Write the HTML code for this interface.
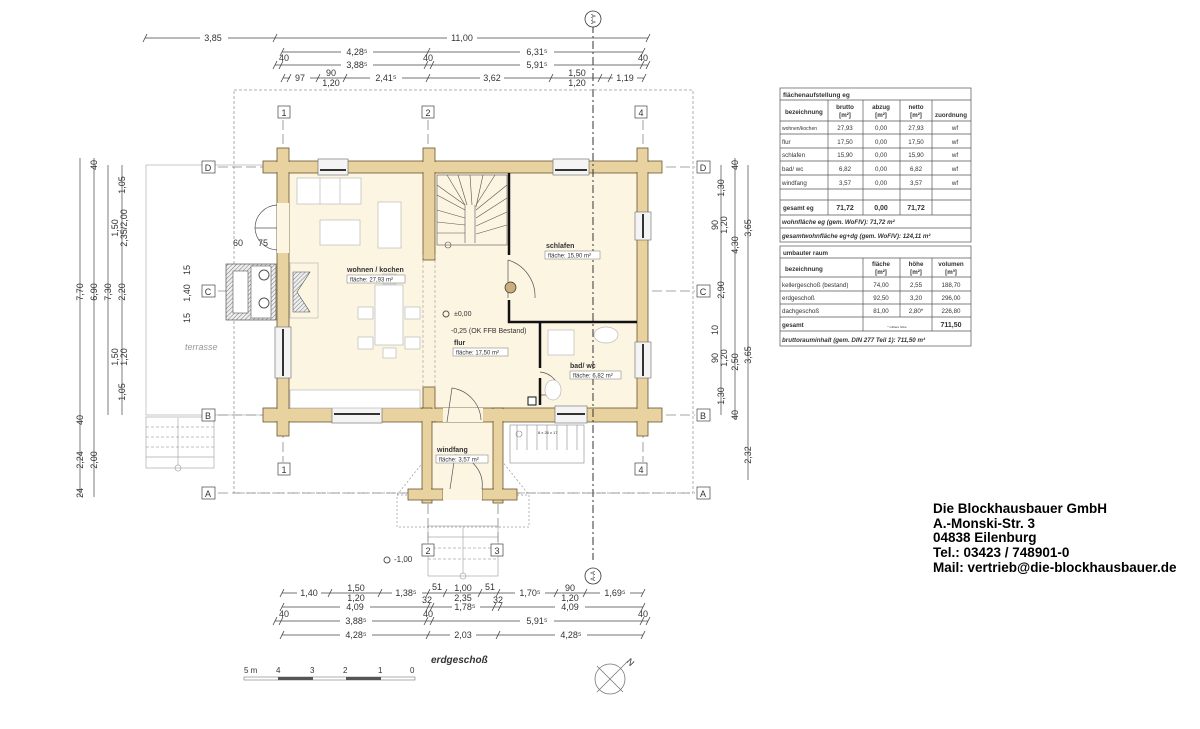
<!DOCTYPE html>
<html><head><meta charset="utf-8"><style>
html,body{margin:0;padding:0;background:#fff}
svg{display:block}
text{font-family:"Liberation Sans",sans-serif;fill:#333}
.d{font-size:9px}
.s{font-size:6px}
.t{font-size:6.2px}
</style></head><body>
<svg width="1200" height="729" viewBox="0 0 1200 729" xmlns="http://www.w3.org/2000/svg">
<defs>
<pattern id="h" width="3" height="3" patternUnits="userSpaceOnUse" patternTransform="rotate(45)"><rect width="3" height="3" fill="#eee"/><line x1="0" y1="0" x2="0" y2="3" stroke="#777" stroke-width="1"/></pattern>
</defs>

<rect x="234" y="90" width="459" height="403" fill="none" stroke="#999" stroke-width="0.8" stroke-dasharray="3,2"/>
<rect x="146" y="165" width="131" height="250" fill="none" stroke="#bbb" stroke-width="0.8"/>
<text x="185" y="350" font-size="9" font-style="italic" style="fill:#999">terrasse</text>
<g stroke="#aaa" stroke-width="0.7" fill="none">
<rect x="146" y="417" width="68" height="51"/>
<line x1="146" y1="427" x2="214" y2="427" stroke-dasharray="3,2"/>
<line x1="146" y1="437" x2="214" y2="437" stroke-dasharray="3,2"/>
<line x1="146" y1="447" x2="214" y2="447" stroke-dasharray="3,2"/>
<line x1="146" y1="457" x2="214" y2="457"/>
<line x1="178" y1="418" x2="178" y2="465"/><circle cx="178" cy="468" r="3"/>
</g>
<g stroke="#999" stroke-width="0.7" fill="none" stroke-dasharray="2,2">
<polyline points="397,495 463,412 529,495"/>
<rect x="397" y="495" width="132" height="32"/>
</g>
<g stroke="#aaa" stroke-width="0.7" fill="none">
<rect x="428" y="526" width="70" height="50"/>
<line x1="428" y1="537" x2="498" y2="537"/><line x1="428" y1="548" x2="498" y2="548" stroke-dasharray="3,2"/><line x1="428" y1="559" x2="498" y2="559" stroke-dasharray="3,2"/>
<line x1="463" y1="527" x2="463" y2="573"/><circle cx="463" cy="576" r="3"/>
</g>

<g stroke="#888" stroke-width="0.8" stroke-dasharray="10,4" fill="none">
<line x1="218" y1="167" x2="695" y2="167"/>
<line x1="218" y1="291" x2="695" y2="291"/>
<line x1="218" y1="415" x2="695" y2="415"/>
<line x1="218" y1="493" x2="695" y2="493"/>
<line x1="283" y1="120" x2="283" y2="462"/>
<line x1="428" y1="120" x2="428" y2="462"/>
<line x1="643" y1="120" x2="643" y2="462"/>
<line x1="428" y1="490" x2="428" y2="545"/>
<line x1="498" y1="490" x2="498" y2="545"/>
</g>

<rect x="289" y="173" width="348" height="235" fill="#fcf5e2"/>
<rect x="432" y="422" width="61" height="68" fill="#fcf5e2"/>
<g fill="#e8d3a0" stroke="#6a5530" stroke-width="0.8">
<rect x="263" y="161" width="399" height="12"/>
<rect x="263" y="408" width="399" height="14"/>
<rect x="277" y="148" width="12" height="288"/>
<rect x="637" y="148" width="11" height="288"/>
<rect x="423" y="148" width="12" height="112"/>
<rect x="423" y="387" width="12" height="35"/>
<rect x="422" y="408" width="10" height="95"/>
<rect x="493" y="408" width="10" height="95"/>
<rect x="408" y="489" width="35" height="11"/>
<rect x="482" y="489" width="35" height="11"/>
</g>
<g fill="#e8d3a0">
<rect x="278" y="162" width="10" height="273"/><rect x="638" y="162" width="9" height="273"/>
<rect x="424" y="162" width="10" height="97"/><rect x="423" y="409" width="8" height="90"/><rect x="494" y="409" width="8" height="90"/>
<rect x="264" y="162" width="397" height="10"/><rect x="264" y="409" width="397" height="12"/>
</g>
<g fill="#f4f4f4" stroke="#666" stroke-width="0.6">
<rect x="318" y="159" width="30" height="16"/>
<rect x="553" y="159" width="36" height="16"/>
<rect x="332" y="406" width="50" height="17"/>
<rect x="555" y="406" width="32" height="17"/>
<rect x="275" y="327" width="16" height="51"/>
<rect x="635" y="212" width="16" height="28"/>
<rect x="635" y="342" width="16" height="36"/>
</g>
<g stroke="#333" stroke-width="2">
<line x1="320" y1="170" x2="346" y2="170"/><line x1="555" y1="170" x2="587" y2="170"/>
<line x1="334" y1="414" x2="380" y2="414"/><line x1="557" y1="414" x2="585" y2="414"/>
<line x1="283" y1="329" x2="283" y2="376"/><line x1="643" y1="214" x2="643" y2="238"/><line x1="643" y1="344" x2="643" y2="376"/>
</g>
<rect x="277" y="203" width="12" height="50" fill="#fcf5e2"/>
<rect x="443" y="408" width="40" height="14" fill="#fcf5e2"/>
<rect x="443" y="489" width="39" height="11" fill="#fcf5e2"/>
<g fill="none" stroke="#555" stroke-width="0.7">
<path d="M277,205 A23,23 0 0 0 255,228 L277,228"/><path d="M277,250 A23,23 0 0 1 255,228"/>
<path d="M447,422 L452,388 A34,34 0 0 1 481,420"/>
<path d="M450,489 L455,455 A30,30 0 0 1 482,489"/>
<path d="M508,260 L508,298 M508,260 A38,38 0 0 1 535,298"/>
<path d="M540,372 A22,22 0 0 1 560,395 L540,395"/>
</g>
<g stroke="#111" stroke-width="2.5" fill="none">
<polyline points="509,173 509,255"/>
<polyline points="509,300 509,322 637,322"/>
<polyline points="540,322 540,368"/><line x1="540" y1="378" x2="540" y2="405"/>
</g>
<rect x="505" y="282" width="11" height="11" rx="5.5" fill="#c9b07a" stroke="#333" stroke-width="0.7"/>
<g stroke="#555" stroke-width="0.6" fill="none">
<rect x="437" y="175" width="70" height="70"/>
<line x1="465" y1="205" x2="465" y2="243"/><line x1="475" y1="205" x2="475" y2="243"/>
<path d="M437,185 L465,205 M437,195 L465,210 M437,210 L465,218 M437,222 L465,225 M437,233 L465,233 M447,175 L465,205 M458,175 L467,205 M470,175 L472,205 M483,175 L476,207 M507,185 L476,210 M507,198 L476,218 M507,212 L476,226 M507,225 L476,234 M495,175 L476,205"/>
<circle cx="448" cy="245" r="3"/>
</g>
<g stroke="#999" stroke-width="0.6" stroke-dasharray="3,2" fill="none">
<line x1="423" y1="255" x2="423" y2="390"/><line x1="435" y1="255" x2="435" y2="390"/>
<line x1="593" y1="25" x2="593" y2="560" stroke="#333" stroke-width="1" stroke-dasharray="8,3,2,3"/>
</g>
<g stroke="#bbb" stroke-width="0.7" fill="#fff">
<rect x="297" y="178" width="64" height="26"/><line x1="320" y1="178" x2="320" y2="204"/><line x1="340" y1="178" x2="340" y2="204"/>
<rect x="320" y="220" width="40" height="25"/>
<rect x="378" y="202" width="23" height="46"/>
<rect x="375" y="285" width="28" height="60"/>
<rect x="383" y="274" width="13" height="10"/><rect x="383" y="348" width="13" height="10"/>
<rect x="358" y="307" width="15" height="12"/><rect x="405" y="307" width="15" height="12"/>
<rect x="358" y="337" width="15" height="12"/><rect x="405" y="337" width="15" height="12"/>
<rect x="290" y="390" width="130" height="18"/>
<rect x="290" y="263" width="28" height="55" fill="none"/>
<rect x="548" y="330" width="26" height="25"/>
<ellipse cx="606" cy="335" rx="12" ry="8"/>
<ellipse cx="553" cy="390" rx="8" ry="10"/>
</g>
<rect x="226" y="264" width="50" height="56" fill="url(#h)" stroke="#555" stroke-width="0.7"/>
<rect x="233" y="271" width="15" height="42" fill="#fff" stroke="#555" stroke-width="0.6"/>
<rect x="251" y="266" width="20" height="52" fill="#fff" stroke="#555" stroke-width="0.6"/>
<circle cx="264" cy="275" r="5" fill="none" stroke="#555"/><circle cx="264" cy="303" r="5" fill="none" stroke="#555"/>
<path d="M293,272 L310,272 L297,292 L310,312 L293,312 Z" fill="url(#h)" stroke="#555" stroke-width="0.6"/>
<g stroke="#888" stroke-width="0.6" fill="none">
<rect x="510" y="425" width="74" height="38"/><line x1="517" y1="425" x2="517" y2="450"/><line x1="527" y1="425" x2="527" y2="450"/><line x1="537" y1="425" x2="537" y2="450"/><line x1="547" y1="425" x2="547" y2="450"/><line x1="557" y1="425" x2="557" y2="450"/><line x1="567" y1="425" x2="567" y2="450"/><line x1="577" y1="425" x2="577" y2="450"/>
<circle cx="519" cy="434" r="3"/>
</g>
<text x="538" y="434" style="font-size:4px">8 x 26 x 17</text>
<rect x="528" y="397" width="8" height="8" fill="#fff" stroke="#111"/>

<text x="347" y="272" style="font-size:7px;font-weight:bold">wohnen / kochen</text>
<rect x="347" y="275" width="58" height="8" fill="#fff" stroke="#777" stroke-width="0.5"/><text x="350" y="281.5" class="s">fläche:  27,93 m²</text>
<text x="546" y="248" style="font-size:7px;font-weight:bold">schlafen</text>
<rect x="545" y="251" width="55" height="8" fill="#fff" stroke="#777" stroke-width="0.5"/><text x="548" y="257.5" class="s">fläche: 15,90 m²</text>
<text x="454" y="345" style="font-size:7px;font-weight:bold">flur</text>
<rect x="453" y="348" width="55" height="8" fill="#fff" stroke="#777" stroke-width="0.5"/><text x="456" y="354.5" class="s">fläche: 17,50 m²</text>
<text x="570" y="368" style="font-size:7px;font-weight:bold">bad/ wc</text>
<rect x="570" y="371" width="51" height="8" fill="#fff" stroke="#777" stroke-width="0.5"/><text x="573" y="377.5" class="s">fläche: 6,82 m²</text>
<text x="437" y="452" style="font-size:7px;font-weight:bold">windfang</text>
<rect x="436" y="455" width="52" height="8" fill="#fff" stroke="#777" stroke-width="0.5"/><text x="439" y="461.5" class="s">fläche: 3,57 m²</text>
<text x="454" y="316" style="font-size:7px">±0,00</text>
<text x="451" y="333" style="font-size:7px">-0,25 (OK FFB Bestand)</text>
<circle cx="446" cy="314" r="3" fill="none" stroke="#555"/>
<text x="394" y="562" style="font-size:8px">-1,00</text><circle cx="387" cy="560" r="3" fill="none" stroke="#555"/>

<g fill="#fff" stroke="#444" stroke-width="0.7">
<rect x="278" y="106" width="12" height="12"/><rect x="422" y="106" width="12" height="12"/><rect x="635" y="106" width="12" height="12"/>
<rect x="278" y="463" width="12" height="12"/><rect x="635" y="463" width="12" height="12"/>
<rect x="202" y="161" width="13" height="12"/><rect x="202" y="285" width="13" height="12"/><rect x="202" y="409" width="13" height="12"/><rect x="202" y="487" width="13" height="12"/>
<rect x="697" y="161" width="13" height="12"/><rect x="697" y="285" width="13" height="12"/><rect x="697" y="409" width="13" height="12"/><rect x="697" y="487" width="13" height="12"/>
<rect x="422" y="544" width="12" height="12"/><rect x="491" y="544" width="12" height="12"/>
</g>
<g style="font-size:9px" text-anchor="middle">
<text x="284" y="116">1</text><text x="428" y="116">2</text><text x="641" y="116">4</text>
<text x="284" y="473">1</text><text x="641" y="473">4</text>
<text x="208" y="171">D</text><text x="208" y="295">C</text><text x="208" y="419">B</text><text x="208" y="497">A</text>
<text x="703" y="171">D</text><text x="703" y="295">C</text><text x="703" y="419">B</text><text x="703" y="497">A</text>
<text x="428" y="554">2</text><text x="497" y="554">3</text>
</g>
<g fill="#fff" stroke="#333" stroke-width="0.8"><circle cx="593" cy="19" r="8"/><circle cx="593" cy="576" r="8"/></g>
<text x="593" y="21" transform="rotate(90 593 19)" style="font-size:6px" text-anchor="middle">A-A</text>
<text x="593" y="578" transform="rotate(-90 593 576)" style="font-size:6px" text-anchor="middle">A-A</text>

<g stroke="#444" stroke-width="0.7">
<line x1="145" y1="38" x2="648" y2="38"/><line x1="282" y1="52" x2="643" y2="52"/><line x1="275" y1="65" x2="648" y2="65"/><line x1="283" y1="78" x2="644" y2="78"/>
<line x1="282" y1="593" x2="643" y2="593"/><line x1="282" y1="607" x2="643" y2="607"/><line x1="275" y1="621" x2="648" y2="621"/><line x1="282" y1="635" x2="643" y2="635"/>
<line x1="80" y1="158" x2="80" y2="497"/><line x1="94" y1="158" x2="94" y2="497"/><line x1="108" y1="165" x2="108" y2="415"/><line x1="122" y1="165" x2="122" y2="415"/>
<line x1="721" y1="165" x2="721" y2="415"/><line x1="735" y1="158" x2="735" y2="420"/><line x1="748" y1="165" x2="748" y2="480"/>
</g>
<g fill="#fff">
<rect x="200" y="32" width="28" height="12"/><rect x="447" y="32" width="30" height="12"/>
<rect x="341" y="46" width="32" height="12"/><rect x="520" y="46" width="34" height="12"/>
<rect x="341" y="59" width="32" height="12"/><rect x="520" y="59" width="34" height="12"/>
<rect x="290" y="72" width="20" height="12"/><rect x="370" y="72" width="32" height="12"/><rect x="480" y="72" width="24" height="12"/><rect x="613" y="72" width="24" height="12"/>
<rect x="297" y="587" width="24" height="12"/><rect x="392" y="587" width="30" height="12"/><rect x="515" y="587" width="30" height="12"/><rect x="600" y="587" width="30" height="12"/>
<rect x="340" y="601" width="30" height="12"/><rect x="452" y="601" width="28" height="12"/><rect x="555" y="601" width="30" height="12"/>
<rect x="340" y="615" width="32" height="12"/><rect x="520" y="615" width="34" height="12"/>
<rect x="340" y="629" width="32" height="12"/><rect x="450" y="629" width="26" height="12"/><rect x="555" y="629" width="32" height="12"/>
</g>
<g stroke="#444" stroke-width="0.8" fill="none">
<path d="M143,42l4,-8M273,42l4,-8M646,42l4,-8M280,56l4,-8M426,56l4,-8M641,56l4,-8M273,69l4,-8M279,69l4,-8M424,69l4,-8M430,69l4,-8M640,69l4,-8M646,69l4,-8M281,82l4,-8M287,82l4,-8M316,82l4,-8M343,82l4,-8M426,82l4,-8M549,82l4,-8M598,82l4,-8M608,82l4,-8M642,82l4,-8"/>
<path d="M280,597l4,-8M328,597l4,-8M378,597l4,-8M426,597l4,-8M443,597l4,-8M478,597l4,-8M496,597l4,-8M554,597l4,-8M583,597l4,-8M641,597l4,-8M280,611l4,-8M426,611l4,-8M430,611l4,-8M492,611l4,-8M498,611l4,-8M641,611l4,-8M273,625l4,-8M279,625l4,-8M424,625l4,-8M430,625l4,-8M640,625l4,-8M646,625l4,-8M280,639l4,-8M426,639l4,-8M496,639l4,-8M641,639l4,-8"/>
</g>
<g class="d" text-anchor="middle" style="font-size:9px">
<text x="213" y="41">3,85</text><text x="462" y="41">11,00</text>
<text x="357" y="55">4,28⁵</text><text x="537" y="55">6,31⁵</text>
<text x="357" y="68">3,88⁵</text><text x="537" y="68">5,91⁵</text>
<text x="284" y="61">40</text><text x="428" y="61">40</text><text x="643" y="61">40</text>
<text x="300" y="81">97</text><text x="331" y="76">90</text><text x="331" y="86">1,20</text><text x="386" y="81">2,41⁵</text><text x="492" y="81">3,62</text><text x="577" y="76">1,50</text><text x="577" y="86">1,20</text><text x="625" y="81">1,19</text>
<text x="309" y="596">1,40</text><text x="356" y="591">1,50</text><text x="356" y="601">1,20</text><text x="406" y="596">1,38⁵</text><text x="437" y="590">51</text><text x="463" y="591">1,00</text><text x="463" y="601">2,35</text><text x="490" y="590">51</text><text x="530" y="596">1,70⁵</text><text x="570" y="591">90</text><text x="570" y="601">1,20</text><text x="615" y="596">1,69⁵</text>
<text x="355" y="610">4,09</text><text x="465" y="610">1,78⁵</text><text x="570" y="610">4,09</text><text x="427" y="603">32</text><text x="498" y="603">32</text>
<text x="284" y="617">40</text><text x="428" y="617">40</text><text x="643" y="617">40</text>
<text x="356" y="624">3,88⁵</text><text x="537" y="624">5,91⁵</text>
<text x="356" y="638">4,28⁵</text><text x="463" y="638">2,03</text><text x="571" y="638">4,28⁵</text>
</g>
<g style="font-size:9px" text-anchor="middle">
<text transform="translate(83,292) rotate(-90)">7,70</text>
<text transform="translate(97,292) rotate(-90)">6,90</text>
<text transform="translate(111,292) rotate(-90)">7,30</text>
<text transform="translate(125,292) rotate(-90)">2,20</text>
<text transform="translate(125,185) rotate(-90)">1,05</text>
<text transform="translate(118,228) rotate(-90)">1,50</text><text transform="translate(127,228) rotate(-90)">2,35/2,00</text>
<text transform="translate(118,357) rotate(-90)">1,50</text><text transform="translate(127,357) rotate(-90)">1,20</text>
<text transform="translate(125,392) rotate(-90)">1,05</text>
<text transform="translate(97,165) rotate(-90)">40</text><text transform="translate(83,420) rotate(-90)">40</text>
<text transform="translate(83,460) rotate(-90)">2,24</text><text transform="translate(97,460) rotate(-90)">2,00</text>
<text transform="translate(83,493) rotate(-90)">24</text>
<text transform="translate(190,270) rotate(-90)">15</text><text transform="translate(190,293) rotate(-90)">1,40</text><text transform="translate(190,318) rotate(-90)">15</text>
<text transform="translate(724,188) rotate(-90)">1,30</text><text transform="translate(718,225) rotate(-90)">90</text><text transform="translate(727,225) rotate(-90)">1,20</text>
<text transform="translate(724,290) rotate(-90)">2,90</text><text transform="translate(718,330) rotate(-90)">10</text><text transform="translate(718,358) rotate(-90)">90</text><text transform="translate(727,358) rotate(-90)">1,20</text><text transform="translate(724,396) rotate(-90)">1,30</text>
<text transform="translate(738,165) rotate(-90)">40</text><text transform="translate(738,245) rotate(-90)">4,30</text><text transform="translate(738,362) rotate(-90)">2,50</text><text transform="translate(738,415) rotate(-90)">40</text>
<text transform="translate(751,228) rotate(-90)">3,65</text><text transform="translate(751,355) rotate(-90)">3,65</text><text transform="translate(751,455) rotate(-90)">2,32</text>
</g>
<text x="233" y="246" style="font-size:9px">60</text><text x="258" y="246" style="font-size:9px">75</text>

<g stroke="#555" stroke-width="0.7" fill="none">
<rect x="780" y="88" width="191" height="154"/>
<line x1="780" y1="100" x2="971" y2="100"/><line x1="780" y1="121" x2="971" y2="121"/>
<line x1="780" y1="134" x2="971" y2="134"/><line x1="780" y1="148" x2="971" y2="148"/><line x1="780" y1="161" x2="971" y2="161"/><line x1="780" y1="175" x2="971" y2="175"/><line x1="780" y1="189" x2="971" y2="189"/><line x1="780" y1="200" x2="971" y2="200"/><line x1="780" y1="215" x2="971" y2="215"/><line x1="780" y1="228" x2="971" y2="228"/>
<line x1="828" y1="100" x2="828" y2="215"/><line x1="863" y1="100" x2="863" y2="215"/><line x1="900" y1="100" x2="900" y2="215"/><line x1="932" y1="100" x2="932" y2="215"/>
<rect x="780" y="246" width="191" height="100"/>
<line x1="780" y1="258" x2="971" y2="258"/><line x1="780" y1="277" x2="971" y2="277"/><line x1="780" y1="291" x2="971" y2="291"/><line x1="780" y1="304" x2="971" y2="304"/><line x1="780" y1="317" x2="971" y2="317"/><line x1="780" y1="331" x2="971" y2="331"/>
<line x1="863" y1="258" x2="863" y2="331"/><line x1="900" y1="258" x2="900" y2="317"/><line x1="932" y1="258" x2="932" y2="331"/>
</g>
<g class="t">
<text x="783" y="97" style="font-weight:bold;font-size:6.5px">flächenaufstellung eg</text>
<text x="785" y="114" style="font-weight:bold">bezeichnung</text>
<g text-anchor="middle" style="font-weight:bold"><text x="845" y="109">brutto</text><text x="845" y="117">[m²]</text><text x="881" y="109">abzug</text><text x="881" y="117">[m²]</text><text x="916" y="109">netto</text><text x="916" y="117">[m²]</text><text x="951" y="117">zuordnung</text></g>
<text x="782" y="130" style="font-size:5px">wohnen/kochen</text><text x="782" y="144">flur</text><text x="782" y="157">schlafen</text><text x="782" y="171">bad/ wc</text><text x="782" y="185">windfang</text>
<text x="783" y="210" style="font-weight:bold">gesamt eg</text>
<g text-anchor="middle"><text x="845" y="130">27,93</text><text x="881" y="130">0,00</text><text x="916" y="130">27,93</text><text x="955" y="130">wf</text>
<text x="845" y="144">17,50</text><text x="881" y="144">0,00</text><text x="916" y="144">17,50</text><text x="955" y="144">wf</text>
<text x="845" y="157">15,90</text><text x="881" y="157">0,00</text><text x="916" y="157">15,90</text><text x="955" y="157">wf</text>
<text x="845" y="171">6,82</text><text x="881" y="171">0,00</text><text x="916" y="171">6,82</text><text x="955" y="171">wf</text>
<text x="845" y="185">3,57</text><text x="881" y="185">0,00</text><text x="916" y="185">3,57</text><text x="955" y="185">wf</text>
<g style="font-weight:bold;font-size:7px"><text x="845" y="210">71,72</text><text x="881" y="210">0,00</text><text x="916" y="210">71,72</text></g></g>
<text x="782" y="224" style="font-weight:bold;font-style:italic">wohnfläche eg (gem. WoFlV):  71,72 m²</text>
<text x="782" y="238" style="font-weight:bold;font-style:italic">gesamtwohnfläche eg+dg (gem. WoFlV):  124,11 m²</text>
<text x="783" y="255" style="font-weight:bold">umbauter raum</text>
<text x="785" y="271" style="font-weight:bold">bezeichnung</text>
<g text-anchor="middle" style="font-weight:bold"><text x="881" y="266">fläche</text><text x="881" y="274">[m²]</text><text x="916" y="266">höhe</text><text x="916" y="274">[m²]</text><text x="951" y="266">volumen</text><text x="951" y="274">[m³]</text></g>
<text x="782" y="287">kellergeschoß (bestand)</text><text x="782" y="300">erdgeschoß</text><text x="782" y="313">dachgeschoß</text><text x="782" y="327" style="font-weight:bold">gesamt</text>
<g text-anchor="middle"><text x="881" y="287">74,00</text><text x="916" y="287">2,55</text><text x="951" y="287">188,70</text>
<text x="881" y="300">92,50</text><text x="916" y="300">3,20</text><text x="951" y="300">296,00</text>
<text x="881" y="313">81,00</text><text x="916" y="313">2,80*</text><text x="951" y="313">226,80</text>
<text x="951" y="327" style="font-weight:bold;font-size:7px">711,50</text><text x="897" y="328" style="font-size:3px">* mittlere höhe</text></g>
<text x="782" y="342" style="font-weight:bold;font-style:italic">bruttorauminhalt (gem. DIN 277 Teil 1):  711,50 m³</text>
</g>

<g style="font-size:13.5px;font-weight:bold">
<text x="933" y="513" style="fill:#000">Die Blockhausbauer GmbH</text>
<text x="933" y="528" style="fill:#000">A.-Monski-Str. 3</text>
<text x="933" y="542" style="fill:#000">04838 Eilenburg</text>
<text x="933" y="557" style="fill:#000">Tel.: 03423 / 748901-0</text>
<text x="933" y="572" style="fill:#000">Mail: vertrieb@die-blockhausbauer.de</text>
</g>

<text x="431" y="663" style="font-size:10px;font-weight:bold;font-style:italic">erdgeschoß</text>
<g style="font-size:8px"><text x="244" y="673">5 m</text><text x="276" y="673">4</text><text x="310" y="673">3</text><text x="343" y="673">2</text><text x="378" y="673">1</text><text x="410" y="673">0</text></g>
<rect x="244" y="677" width="171" height="3" fill="#fff" stroke="#777" stroke-width="0.6"/>
<rect x="278" y="677" width="35" height="3" fill="#555"/><rect x="346" y="677" width="35" height="3" fill="#555"/>
<g stroke="#777" stroke-width="0.8" fill="none"><circle cx="610" cy="679" r="15"/><line x1="597" y1="666" x2="623" y2="692"/><line x1="597" y1="692" x2="623" y2="666"/><line x1="623" y1="666" x2="628" y2="661"/></g>
<text x="626" y="662" transform="rotate(45 626 662)" style="font-size:9px">N</text>
</svg>
</body></html>
